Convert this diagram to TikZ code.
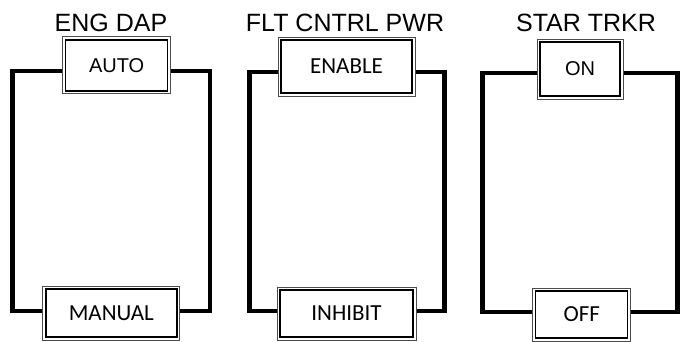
\documentclass[tikz,border=0pt]{standalone}
\usepackage{fontspec}
\setmainfont{Liberation Sans}
\newfontfamily\carl{Carlito}
\begin{document}
\begin{tikzpicture}[x=1pt,y=1pt,
  sw/.style={draw=black, line width=1.4pt, fill=white, inner sep=0pt, outer sep=0pt},
  frame/.style={draw=black!70, line width=0.8pt},
  wire/.style={line width=4.5pt, line join=miter, shorten <=3pt, shorten >=3pt},
  ttl/.style={anchor=base, font=\fontsize{25}{28}\selectfont},
  arial/.style={font=\fontsize{20}{24}\selectfont},
  calib/.style={font=\carl\fontsize{23}{27}\selectfont}]
\useasboundingbox (0,0) rectangle (684,341);
% titles
\node[ttl] (t1) at (111,309) {ENG DAP};
\node[ttl] (t2) at (345,309) {FLT CNTRL PWR};
\node[ttl] (t3) at (586,309) {STAR TRKR};
% corner coordinates
\coordinate (a1) at (12.5,270); \coordinate (a2) at (12.5,30);
\coordinate (b1) at (210,270);  \coordinate (b2) at (210,30);
\coordinate (c1) at (249.5,269); \coordinate (c2) at (249.5,30);
\coordinate (d1) at (444.5,269); \coordinate (d2) at (444.5,30);
\coordinate (e1) at (482.5,268); \coordinate (e2) at (482.5,29);
\coordinate (f1) at (677.5,268); \coordinate (f2) at (677.5,29);
% boxes (positions for wires)
\path (116.7,275.7) node[minimum width=102pt, minimum height=51pt, inner sep=0pt, outer sep=0pt] (auto) {};
\path (111.3,28) node[minimum width=131pt, minimum height=48pt, inner sep=0pt, outer sep=0pt] (manual) {};
\path (346.5,274.5) node[minimum width=131pt, minimum height=53pt, inner sep=0pt, outer sep=0pt] (enable) {};
\path (346.5,27.5) node[minimum width=133pt, minimum height=47pt, inner sep=0pt, outer sep=0pt] (inhibit) {};
\path (580,272) node[minimum width=80pt, minimum height=54pt, inner sep=0pt, outer sep=0pt] (on) {};
\path (581.7,26.5) node[minimum width=92pt, minimum height=47pt, inner sep=0pt, outer sep=0pt] (off) {};
% wires
\draw[wire] (auto.west |- a1) -- (a1) -- (a2) -- (manual.west |- a2);
\draw[wire] (auto.east |- b1) -- (b1) -- (b2) -- (manual.east |- b2);
\draw[wire] (enable.west |- c1) -- (c1) -- (c2) -- (inhibit.west |- c2);
\draw[wire] (enable.east |- d1) -- (d1) -- (d2) -- (inhibit.east |- d2);
\draw[wire] (on.west |- e1) -- (e1) -- (e2) -- (off.west |- e2);
\draw[wire] (on.east |- f1) -- (f1) -- (f2) -- (off.east |- f2);
% switch boxes
\node[sw, minimum width=102pt, minimum height=51pt, arial] (autob) at (auto) {AUTO};
\node[sw, minimum width=131pt, minimum height=48pt, calib] (manualb) at (manual) {MANUAL};
\node[sw, minimum width=131pt, minimum height=53pt, calib] (enableb) at (enable) {ENABLE};
\node[sw, minimum width=133pt, minimum height=47pt, calib] (inhibitb) at (inhibit) {INHIBIT};
\node[sw, minimum width=80pt, minimum height=54pt, arial] (onb) at (on) {ON};
\node[sw, minimum width=92pt, minimum height=47pt, calib] (offb) at (off) {OFF};
\foreach \n in {autob,manualb,enableb,inhibitb,onb,offb}
  \draw[frame] ([shift={(-3pt,-3pt)}]\n.south west) rectangle ([shift={(3pt,3pt)}]\n.north east);
\end{tikzpicture}
\end{document}
